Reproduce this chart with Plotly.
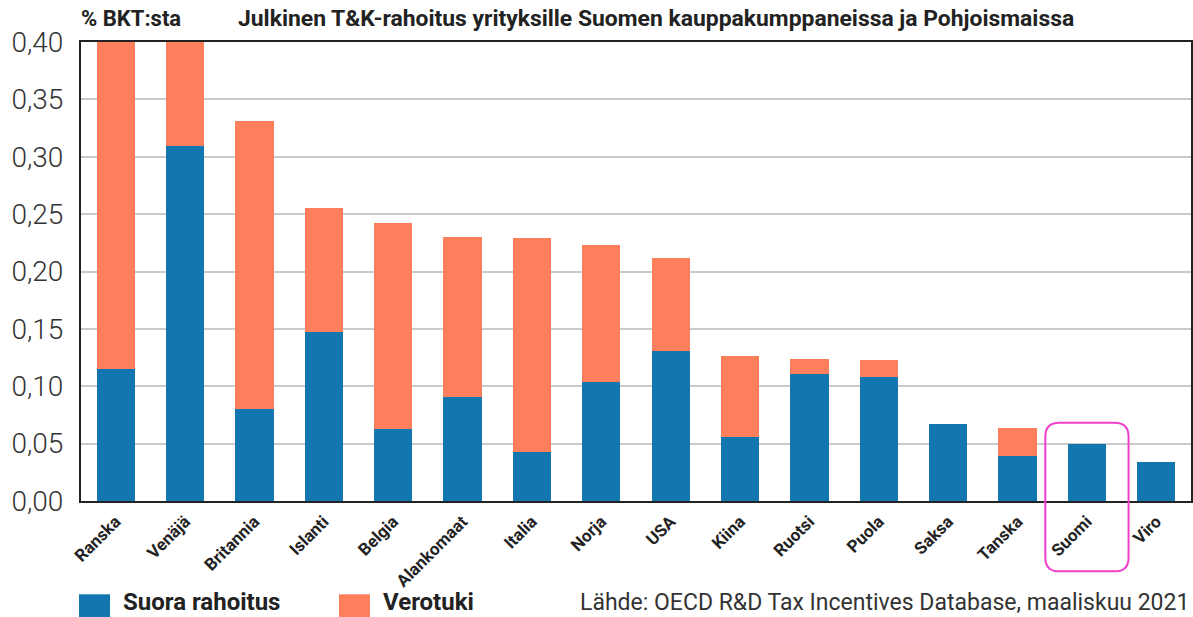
import plotly.graph_objects as go

countries = ["Ranska", "Venäjä", "Britannia", "Islanti", "Belgia", "Alankomaat", "Italia",
             "Norja", "USA", "Kiina", "Ruotsi", "Puola", "Saksa", "Tanska", "Suomi", "Viro"]
suora_rahoitus = [0.115, 0.309, 0.080, 0.147, 0.063, 0.091, 0.043,
                  0.104, 0.131, 0.056, 0.111, 0.108, 0.067, 0.039, 0.050, 0.034]
verotuki = [0.300, 0.100, 0.251, 0.108, 0.179, 0.139, 0.186,
            0.119, 0.081, 0.070, 0.013, 0.015, 0.000, 0.025, 0.000, 0.000]
y_ticks = [0.00, 0.05, 0.10, 0.15, 0.20, 0.25, 0.30, 0.35, 0.40]
highlight = "Suomi"

BLUE = "#1277B1"
ORANGE = "#FF7F5C"
MAGENTA = "#F23FCB"
FONT = "Roboto"

W, H = 1193, 617
L, R, T, B = 81, 2, 41.5, 115.5
PW, PH = W - L - R, H - T - B


def px(x):
    return (x - L) / PW


def py(y):
    return (H - B - y) / PH


fig = go.Figure()
fig.add_trace(go.Bar(x=countries, y=suora_rahoitus, name="Suora rahoitus",
                     marker=dict(color=BLUE, line=dict(width=0)), width=0.55))
fig.add_trace(go.Bar(x=countries, y=verotuki, name="Verotuki",
                     marker=dict(color=ORANGE, line=dict(width=0)), width=0.55))

n = len(countries)
idx = countries.index(highlight)
cx = (idx + 0.5) / n
hw = 0.6 / n
x0, x1 = cx - hw, cx + hw
y0, y1 = py(572), py(423)
rx, ry = 14 / PW, 14 / PH
path = (f"M {x0+rx} {y1} L {x1-rx} {y1} Q {x1} {y1} {x1} {y1-ry} "
        f"L {x1} {y0+ry} Q {x1} {y0} {x1-rx} {y0} L {x0+rx} {y0} "
        f"Q {x0} {y0} {x0} {y0+ry} L {x0} {y1-ry} Q {x0} {y1} {x0+rx} {y1} Z")

shapes = [
    dict(type="path", xref="paper", yref="paper", path=path,
         line=dict(color=MAGENTA, width=2)),
    dict(type="rect", xref="paper", yref="paper",
         x0=px(79), x1=px(110), y0=py(618), y1=py(595),
         fillcolor=BLUE, line=dict(width=0)),
    dict(type="rect", xref="paper", yref="paper",
         x0=px(339), x1=px(370), y0=py(618), y1=py(595),
         fillcolor=ORANGE, line=dict(width=0)),
]

annotations = [
    dict(text="<b>% BKT:sta</b>", xref="paper", yref="paper", x=px(79), y=py(18),
         xanchor="left", yanchor="middle", showarrow=False,
         font=dict(family=FONT, size=22, color="#222")),
    dict(text="<b>Julkinen T&K-rahoitus yrityksille Suomen kauppakumppaneissa ja Pohjoismaissa</b>",
         xref="paper", yref="paper", x=px(236), y=py(18),
         xanchor="left", yanchor="middle", showarrow=False,
         font=dict(family=FONT, size=22.9, color="#222")),
    dict(text="<b>Suora rahoitus</b>", xref="paper", yref="paper", x=px(121), y=py(603),
         xanchor="left", yanchor="middle", showarrow=False,
         font=dict(family=FONT, size=24, color="#222")),
    dict(text="<b>Verotuki</b>", xref="paper", yref="paper", x=px(381), y=py(603),
         xanchor="left", yanchor="middle", showarrow=False,
         font=dict(family=FONT, size=24, color="#222")),
    dict(text="Lähde: OECD R&D Tax Incentives Database, maaliskuu 2021", xref="paper", yref="paper",
         x=px(1191), y=py(603), xanchor="right", yanchor="middle", showarrow=False,
         font=dict(family=FONT, size=23, color="#333")),
]

fig.update_layout(
    barmode="stack",
    width=W, height=H,
    margin=dict(l=L, r=R, t=T, b=B, autoexpand=False),
    plot_bgcolor="white", paper_bgcolor="white",
    separators=", ",
    showlegend=False,
    shapes=shapes,
    annotations=annotations,
    font=dict(family=FONT, color="#222"),
)
fig.update_xaxes(
    type="category", categoryorder="array", categoryarray=countries,
    range=[-0.5, n - 0.5],
    tickangle=-45,
    tickfont=dict(family=FONT, size=17, color="#222", weight="bold"),
    showline=True, linecolor="#222", linewidth=2, mirror=True,
    showgrid=False, ticks="", ticklabelstandoff=2,
)
fig.update_yaxes(
    range=[0, 0.40], tickvals=y_ticks, tickformat=".2f",
    tickfont=dict(family=FONT, size=28, color="#333", weight=300),
    showline=True, linecolor="#222", linewidth=2, mirror=True,
    showgrid=True, gridcolor="#CACACA", gridwidth=1.5,
    ticks="", ticklabelstandoff=10, zeroline=False,
)

fig.write_html("out.html", config={"displayModeBar": False},
               post_script="document.body.style.margin='0';document.body.style.padding='0';")
